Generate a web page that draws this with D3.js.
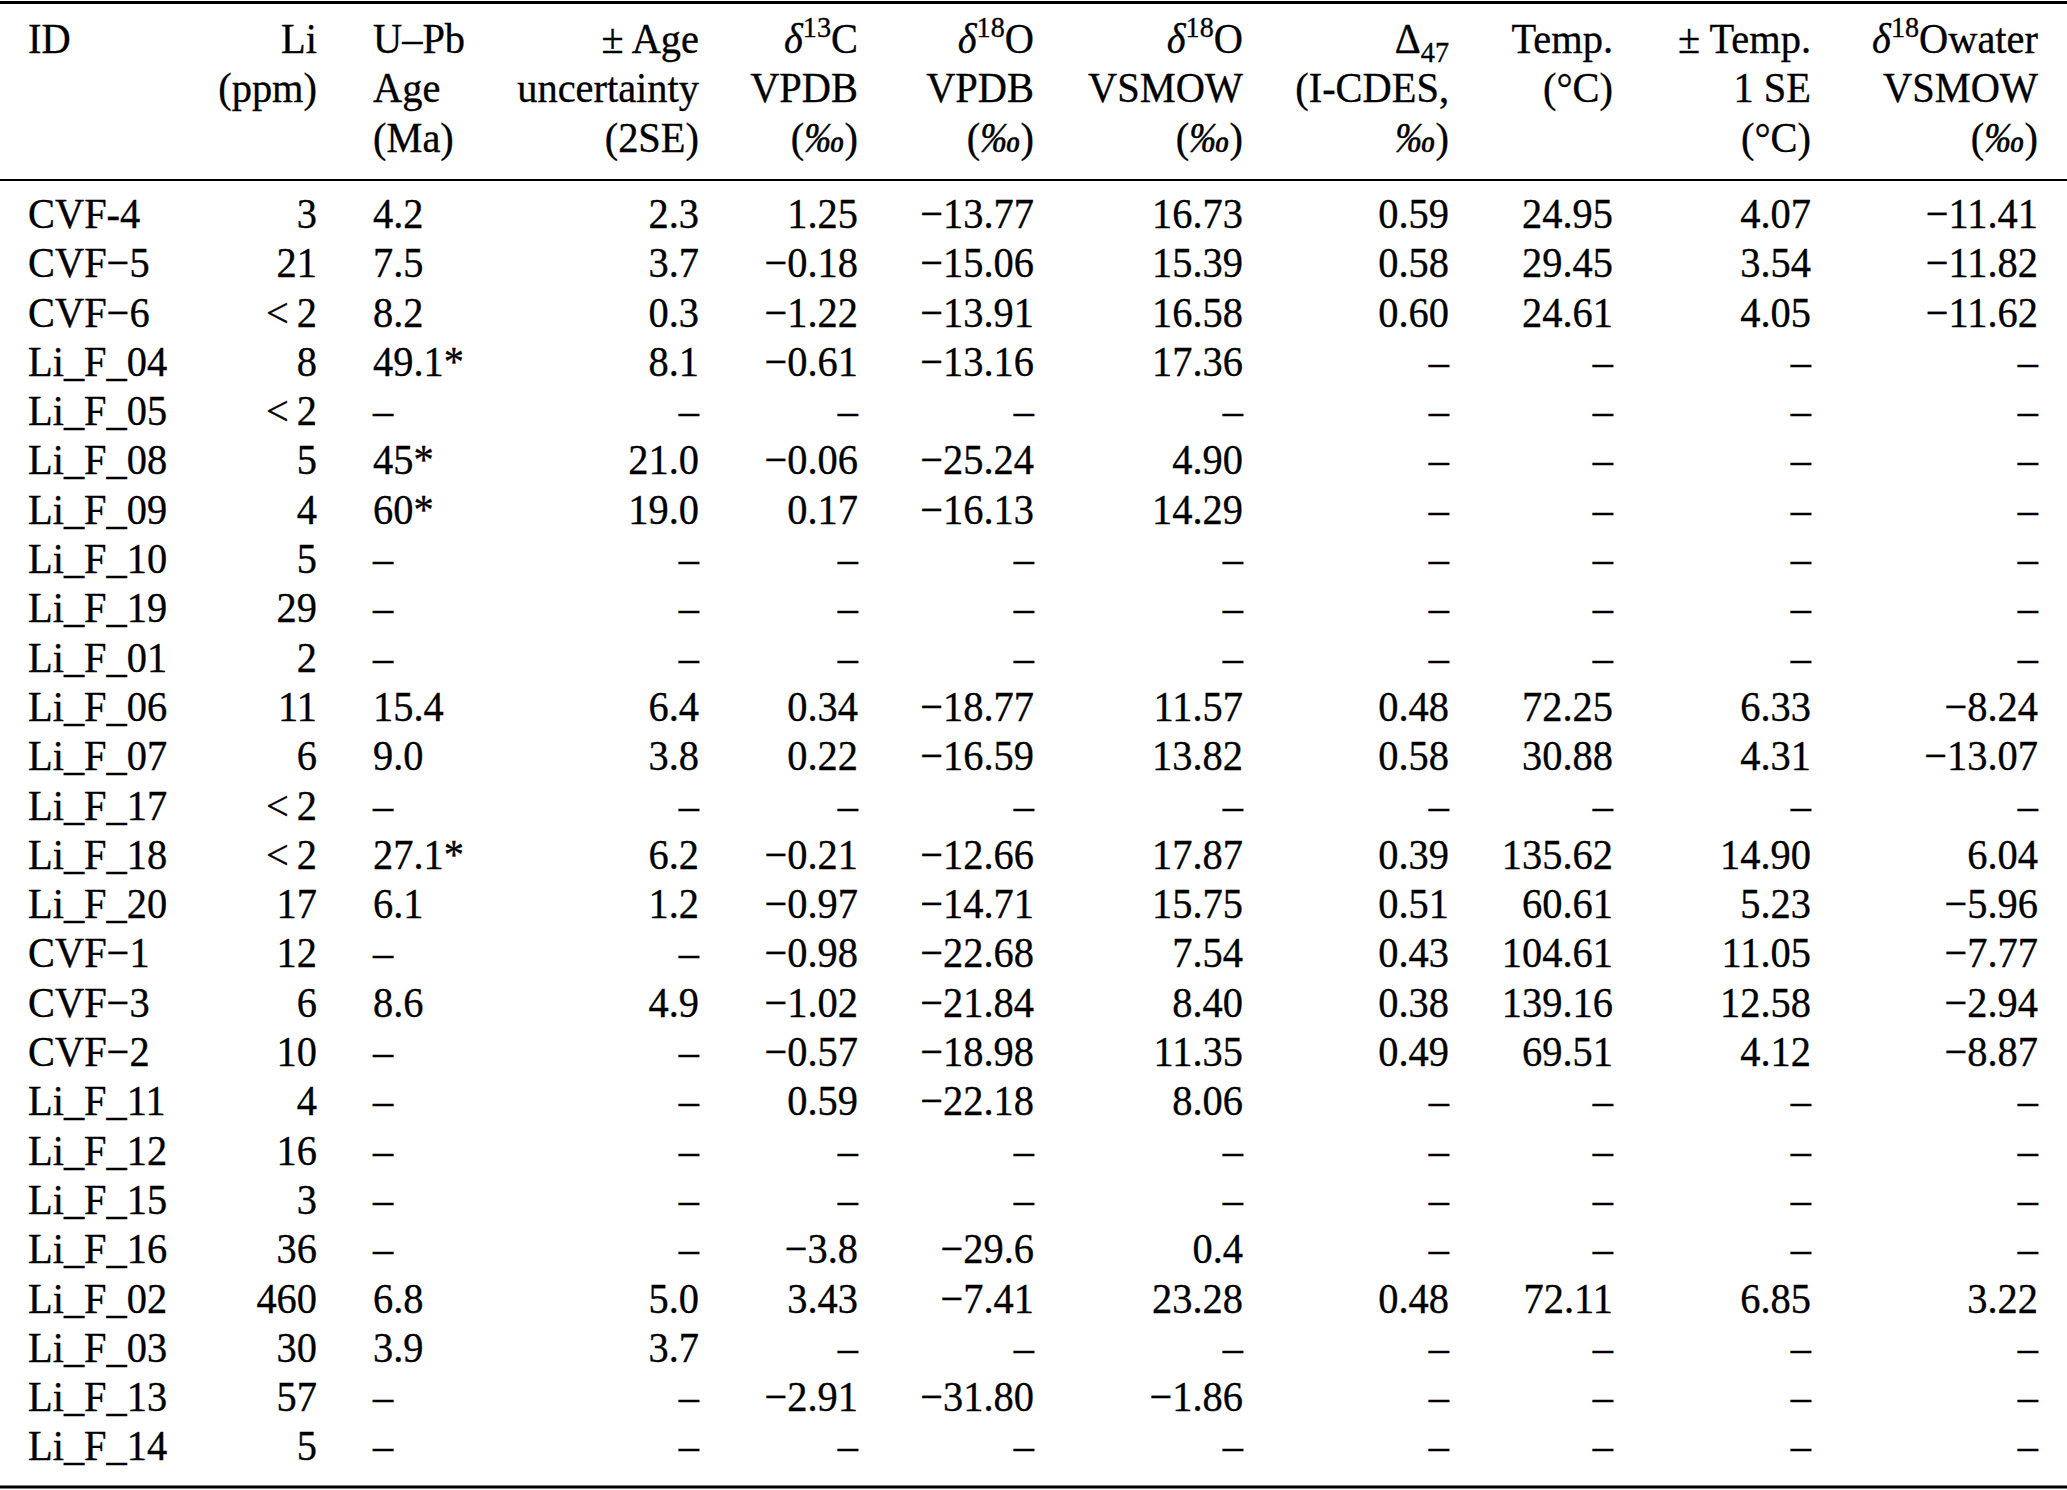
<!DOCTYPE html>
<html>
<head>
<meta charset="utf-8">
<script src="https://cdn.jsdelivr.net/npm/d3@7"></script>
<style>
  html, body { margin: 0; padding: 0; background: #fff; }
  svg { display: block; }
  text { font-family: "Liberation Serif", "Times New Roman", serif; fill: #000; stroke: #000; stroke-width: 0.35px; }
</style>
</head>
<body>
<svg id="chart" width="2067" height="1490"></svg>
<script>
// ---- data (one array per column) ----
const ids = ["CVF-4","CVF\u22125","CVF\u22126","Li_F_04","Li_F_05","Li_F_08","Li_F_09","Li_F_10","Li_F_19","Li_F_01",
  "Li_F_06","Li_F_07","Li_F_17","Li_F_18","Li_F_20","CVF\u22121","CVF\u22123","CVF\u22122","Li_F_11","Li_F_12",
  "Li_F_15","Li_F_16","Li_F_02","Li_F_03","Li_F_13","Li_F_14"];
const li = ["3","21","<\u20092","8","<\u20092","5","4","5","29","2",
  "11","6","<\u20092","<\u20092","17","12","6","10","4","16",
  "3","36","460","30","57","5"];
const uPbAge = ["4.2","7.5","8.2","49.1*",null,"45*","60*",null,null,null,
  "15.4","9.0",null,"27.1*","6.1",null,"8.6",null,null,null,
  null,null,"6.8","3.9",null,null];
const ageUnc = ["2.3","3.7","0.3","8.1",null,"21.0","19.0",null,null,null,
  "6.4","3.8",null,"6.2","1.2",null,"4.9",null,null,null,
  null,null,"5.0","3.7",null,null];
const d13C = ["1.25","\u22120.18","\u22121.22","\u22120.61",null,"\u22120.06","0.17",null,null,null,
  "0.34","0.22",null,"\u22120.21","\u22120.97","\u22120.98","\u22121.02","\u22120.57","0.59",null,
  null,"\u22123.8","3.43",null,"\u22122.91",null];
const d18Opdb = ["\u221213.77","\u221215.06","\u221213.91","\u221213.16",null,"\u221225.24","\u221216.13",null,null,null,
  "\u221218.77","\u221216.59",null,"\u221212.66","\u221214.71","\u221222.68","\u221221.84","\u221218.98","\u221222.18",null,
  null,"\u221229.6","\u22127.41",null,"\u221231.80",null];
const d18Osmow = ["16.73","15.39","16.58","17.36",null,"4.90","14.29",null,null,null,
  "11.57","13.82",null,"17.87","15.75","7.54","8.40","11.35","8.06",null,
  null,"0.4","23.28",null,"\u22121.86",null];
const d47 = ["0.59","0.58","0.60",null,null,null,null,null,null,null,
  "0.48","0.58",null,"0.39","0.51","0.43","0.38","0.49",null,null,
  null,null,"0.48",null,null,null];
const temp = ["24.95","29.45","24.61",null,null,null,null,null,null,null,
  "72.25","30.88",null,"135.62","60.61","104.61","139.16","69.51",null,null,
  null,null,"72.11",null,null,null];
const tempSE = ["4.07","3.54","4.05",null,null,null,null,null,null,null,
  "6.33","4.31",null,"14.90","5.23","11.05","12.58","4.12",null,null,
  null,null,"6.85",null,null,null];
const d18Owater = ["\u221211.41","\u221211.82","\u221211.62",null,null,null,null,null,null,null,
  "\u22128.24","\u221213.07",null,"6.04","\u22125.96","\u22127.77","\u22122.94","\u22128.87",null,null,
  null,null,"3.22",null,null,null];

// header line segments: plain string, {i:..} italic, {sup:..}, {sub:..}
const headers = [
  [["ID"]],
  [["Li"],["(ppm)"]],
  [["U\u2013Pb"],["Age"],["(Ma)"]],
  [["\u00B1 Age"],["uncertainty"],["(2SE)"]],
  [[{i:"\u03B4"},{sup:"13"},"C"],["VPDB"],["(",{i:"\u2030"},")"]],
  [[{i:"\u03B4"},{sup:"18"},"O"],["VPDB"],["(",{i:"\u2030"},")"]],
  [[{i:"\u03B4"},{sup:"18"},"O"],["VSMOW"],["(",{i:"\u2030"},")"]],
  [["\u0394",{sub:"47"}],["(I-CDES,"],[{i:"\u2030"},")"]],
  [["Temp."],["(\u00B0C)"]],
  [["\u00B1 Temp."],["1 SE"],["(\u00B0C)"]],
  [[{i:"\u03B4"},{sup:"18"},"Owater"],["VSMOW"],["(",{i:"\u2030"},")"]]
];

const columnValues = [ids, li, uPbAge, ageUnc, d13C, d18Opdb, d18Osmow, d47, temp, tempSE, d18Owater];

// ---- layout ----
const W = 2067, H = 1490;
const FS = 43;
const SX = 0.94;           // horizontal condensing of the typeface
const SUP = 30;
const colAnchor = ["start","end","start","end","end","end","end","end","end","end","end"];
const colX = [28, 317, 373, 699, 858, 1034, 1243, 1449, 1613, 1811, 2038];

const svg = d3.select("#chart");

const rowY = d3.scalePoint().domain(d3.range(ids.length)).range([228, 1460.5]);
const headY = d3.scalePoint().domain([0,1,2]).range([53, 151.6]);

// rules
const rules = [
  {y: 2.5, w: 3},
  {y: 180, w: 2.2},
  {y: 1487, w: 3}
];
svg.selectAll("line.rule").data(rules).join("line")
  .attr("class","rule")
  .attr("x1", 0).attr("x2", W)
  .attr("y1", d => d.y).attr("y2", d => d.y)
  .attr("stroke", "#000").attr("stroke-width", d => d.w);

const textLayer = svg.append("g").attr("transform", `scale(${SX},1)`);

// headers
headers.forEach((lines, c) => {
  lines.forEach((segs, li_) => {
    const t = textLayer.append("text")
      .attr("x", colX[c] / SX).attr("y", headY(li_))
      .attr("text-anchor", colAnchor[c])
      .attr("font-size", FS);
    let shift = 0;
    segs.forEach(s => {
      const sp = t.append("tspan");
      let dy = 0, txt, size = FS, style = "normal";
      if (typeof s === "string") { txt = s; dy = -shift; shift = 0; }
      else if (s.i) { txt = s.i; style = "italic"; dy = -shift; shift = 0; }
      else if (s.sup) { txt = s.sup; size = SUP; dy = -16 - shift; shift = -16; }
      else if (s.sub) { txt = s.sub; size = SUP; dy = 9 - shift; shift = 9; }
      sp.attr("font-size", size).attr("font-style", style);
      if (dy) sp.attr("dy", dy);
      sp.text(txt);
    });
  });
});

// body cells
columnValues.forEach((vals, c) => {
  textLayer.append("g").selectAll("text").data(vals).join("text")
    .attr("x", colX[c] / SX)
    .attr("y", (d, i) => rowY(i))
    .attr("text-anchor", colAnchor[c])
    .attr("font-size", FS)
    .text(d => d == null ? "\u2013" : d);
});
</script>
</body>
</html>
